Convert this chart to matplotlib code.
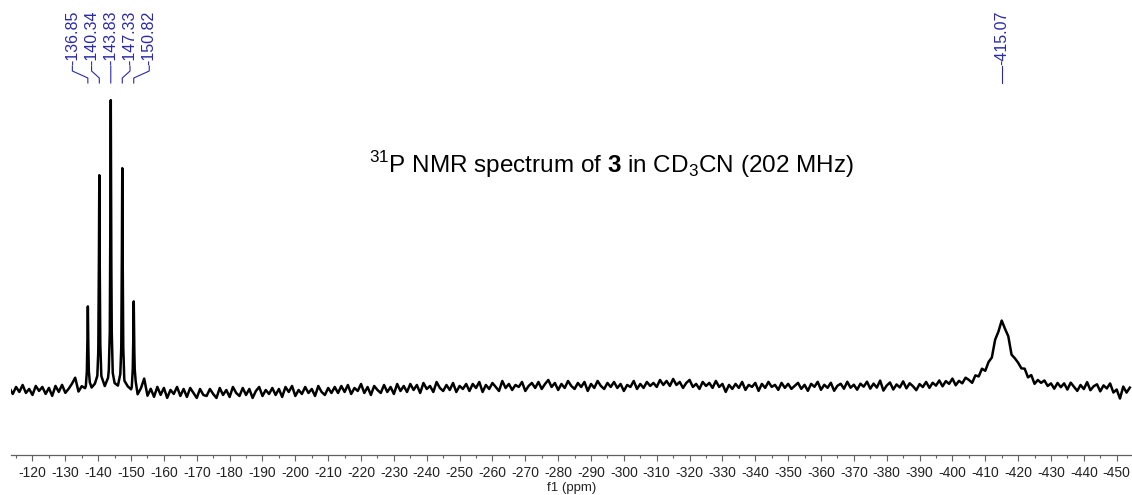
import numpy as np
import matplotlib
matplotlib.use("Agg")
import matplotlib.pyplot as plt
from matplotlib import transforms

plt.rcParams["font.family"] = ["Liberation Sans", "DejaVu Sans"]
plt.rcParams["axes.unicode_minus"] = False
plt.rcParams["mathtext.fontset"] = "custom"
plt.rcParams["mathtext.rm"] = "Liberation Sans"
plt.rcParams["mathtext.bf"] = "Liberation Sans:bold"

# sharp quintet (ppm, height above baseline)
multiplet_ppm = [-136.85, -140.34, -143.83, -147.33, -150.82]
multiplet_height = [81, 213, 290, 219, 85]
multiplet_hwhm = 0.15

# broad signal + small shoulder
broad_ppm = [-415.07, -421.0]
broad_height = [62, 8]
broad_hwhm = [3.0, 1.5]

# labelled shifts
label_ppm = [-136.85, -140.34, -143.83, -147.33, -150.82]
single_label_ppm = -415.07

baseline_noise = [
    2, -4, 3, -2, 5, -3, 1, -5, 4, -1, 3, -4, 2, -6, 4, -2, 5, -3, 1, 6,
    12, -2, 3, -1, 2, 0, 3, 1, 2, 0, 2, -1, 1, 0, 2, -2, 1, -3, 3, -6,
    1, 11, -6, 1, -7, 3, -5, 2, -8, 0, -4, 3, -6, 1, -7, 2, -3, -8, 1, -5,
    -6, 1, -4, -8, 2, -5, 0, -7, 3, -3, -6, 2, -5, 1, -8, -1, 3, -6, 0, -4,
    2, -5, 1, -7, 3, -2, 4, -6, 0, -4, 3, -3, 1, -6, 4, -2, -5, 2, -3, 3,
    -3, 4, -2, 5, -4, 2, -1, 6, -3, 3, -5, 4, 0, -3, 5, -2, 3, -4, 6, -1,
    4, -2, 6, 0, 5, -3, 7, 1, 4, -2, 8, 2, -1, 5, 0, 7, -2, 4, 1, 6,
    -1, 6, 2, 8, -2, 5, 1, 7, 3, -1, 9, 2, 6, 0, 5, 3, 8, -1, 4, 7,
    2, 8, 1, 6, 10, 3, 7, 0, 6, 2, 9, 4, 1, 7, 3, 8, -1, 6, 2, 9,
    4, 1, 7, 3, 8, 2, 6, -1, 5, 3, 9, 1, 6, 2, 8, 4, 7, 3, 10, 5,
    9, 4, 11, 5, 8, 2, 7, 10, 3, 6, 1, 8, 4, 7, 2, 9, 3, 6, -2, 5,
    1, 6, 2, 8, 0, 5, 3, 7, -1, 6, 2, 8, 3, 5, 0, 7, 2, 6, 1, 4,
    7, 1, 5, -1, 6, 3, 8, 0, 5, 2, 7, -1, 4, 6, 1, 8, 2, 5, 0, 6,
    3, 8, 1, 6, 2, 9, -1, 4, 7, 0, 5, 2, 8, 1, 6, 3, -1, 5, 2, 7,
    1, 6, 3, 8, 2, 7, 4, 9, 2, 6, 3, 8, 5, 1, 7, 4, 9, 3, 6, 2,
    8, 3, 7, 4, 9, 2, 6, 5, 1, 6, 2, 7, 0, 5, 3, 6, 1, 4, -1, 5,
    1, 5, -1, 6, 2, -2, 4, 0, 7, -1, 3, 5, -2, 4, 1, 6, -3, 0, -9, 3,
    -3, 2,
]

grid = np.arange(-113.0, -454.5, -1.0)
base = np.array(baseline_noise, dtype=float)

# extra points around each sharp line so the apex is drawn
extra = []
for p in multiplet_ppm:
    for d in (0.0, 0.12, -0.12, 0.3, -0.3, 0.6, -0.6):
        extra.append(p + d)
extra = np.array(extra)
idx = np.clip(np.round(-113.0 - extra).astype(int), 0, len(base) - 1)

x = np.concatenate([grid, extra])
y = np.concatenate([base, base[idx]])
order = np.argsort(-x)
x, y = x[order], y[order]

for p, h in zip(multiplet_ppm, multiplet_height):
    y = y + h * multiplet_hwhm**2 / ((x - p)**2 + multiplet_hwhm**2)
for p, h, g in zip(broad_ppm, broad_height, broad_hwhm):
    y = y + h * g**2 / ((x - p)**2 + g**2)

W, H = 1132, 495
fig = plt.figure(figsize=(W / 100, H / 100), dpi=100)
ax = fig.add_axes([11 / W, 40 / H, 1121 / W, 455 / H])
ax.plot(x, y, color="black", lw=1.8)
ax.set_xlim(-113.46, -454.66)
ax.set_ylim(-65, 390)

for s in ("left", "top", "right"):
    ax.spines[s].set_visible(False)
ax.spines["bottom"].set_color("#606060")
ax.spines["bottom"].set_linewidth(0.9)
ax.set_yticks([])
ax.set_xticks(np.arange(-120, -451, -10))
ax.set_xticks(np.arange(-115, -455, -10), minor=True)
ax.set_xticklabels([f"{v:d}" for v in range(-120, -451, -10)])
ax.tick_params(axis="x", which="major", length=4, width=0.8, color="#606060",
               labelsize=10, pad=4, labelcolor="#222222")
ax.tick_params(axis="x", which="minor", length=2, width=0.8, color="#606060")
ax.set_xlabel("f1 (ppm)", fontsize=9.5, labelpad=1, color="#222222")

# peak labels
trans = transforms.blended_transform_factory(ax.transData, ax.transAxes)


def yf(px):
    return (455 - px) / 455


blue = "#2a2aa8"
center = np.mean(label_ppm)
for i, p in enumerate(label_ppm):
    lx = center - (i - 2) * 5.85
    ax.text(lx, yf(65), f"{p:.2f}", rotation=90, ha="center", va="bottom",
            fontsize=11.5, color=blue, transform=trans)
    ax.plot([lx, lx, p, p], [yf(66), yf(71), yf(78), yf(83)], color=blue,
            lw=0.8, transform=trans, clip_on=False)

ax.text(single_label_ppm, yf(65), f"{single_label_ppm:.2f}", rotation=90,
        ha="center", va="bottom", fontsize=11.5, color=blue, transform=trans)
ax.plot([single_label_ppm, single_label_ppm], [yf(66), yf(83)], color=blue,
        lw=0.8, transform=trans, clip_on=False)

fig.text(611 / W, (H - 173) / H,
         r"$^{31}$P NMR spectrum of $\mathbf{3}$ in CD$_{3}$CN (202 MHz)",
         ha="center", va="baseline", fontsize=17.5)

fig.savefig("out.png", dpi=100)
